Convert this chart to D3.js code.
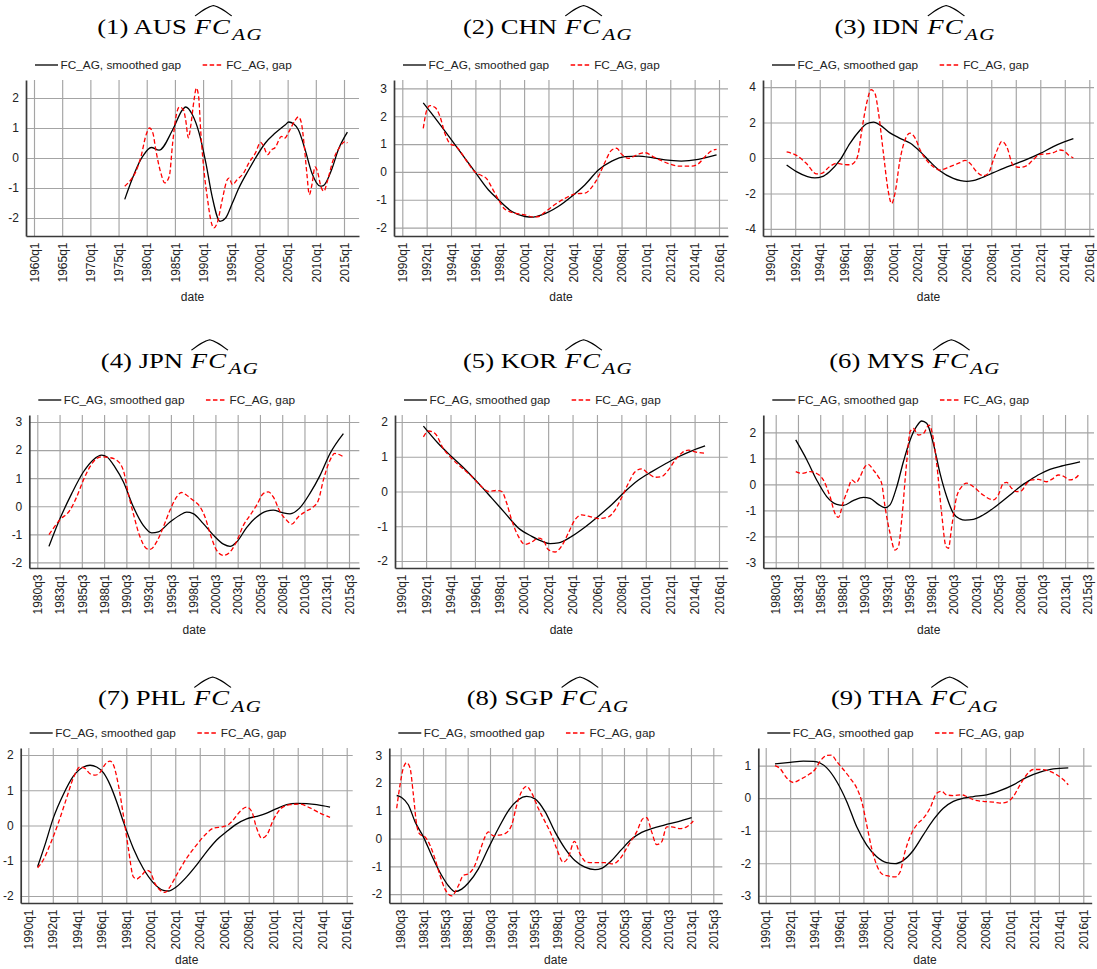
<!DOCTYPE html>
<html><head><meta charset="utf-8">
<script src="https://cdn.jsdelivr.net/npm/d3@7"></script>
<style>body{margin:0;background:#fff}svg{display:block}</style>
</head><body>
<svg id="chart" width="1097" height="969"></svg>
<script>
// ---------------- DATA ----------------
const xTicks5y = ["1960q1","1965q1","1970q1","1975q1","1980q1","1985q1","1990q1","1995q1","2000q1","2005q1","2010q1","2015q1"];
const xTicks2y = ["1990q1","1992q1","1994q1","1996q1","1998q1","2000q1","2002q1","2004q1","2006q1","2008q1","2010q1","2012q1","2014q1","2016q1"];
const xTicksHalf = ["1980q3","1983q1","1985q3","1988q1","1990q3","1993q1","1995q3","1998q1","2000q3","2003q1","2005q3","2008q1","2010q3","2013q1","2015q3"];

const AUS_yTicks = [-2,-1,0,1,2];
const CHN_yTicks = [-2,-1,0,1,2,3];
const IDN_yTicks = [-4,-2,0,2,4];
const JPN_yTicks = [-2,-1,0,1,2,3];
const KOR_yTicks = [-2,-1,0,1,2];
const MYS_yTicks = [-3,-2,-1,0,1,2];
const PHL_yTicks = [-2,-1,0,1,2];
const SGP_yTicks = [-2,-1,0,1,2,3];
const THA_yTicks = [-3,-2,-1,0,1];

const AUS_smoothed = [[1976.1,-1.38],[1979.3,0.06],[1980.8,0.35],[1982.2,0.26],[1984.6,0.94],[1986.35,1.61],[1986.9,1.70],[1988.1,1.44],[1989.3,0.83],[1990.5,-0.17],[1991.6,-1.28],[1993.0,-2.11],[1994.0,-2.0],[1995.2,-1.5],[1996.35,-1.0],[1998.1,-0.39],[1999.3,0],[2001.05,0.5],[2002.8,0.83],[2004.6,1.11],[2005.2,1.2],[2006.05,1.14],[2006.9,0.94],[2008.1,0.28],[2009.3,-0.5],[2010.8,-0.94],[2011.35,-0.92],[2012.8,-0.39],[2014.0,0.28],[2015.6,0.86]];
const AUS_gap = [[1976.1,-0.94],[1977.2,-0.72],[1978.1,-0.44],[1979.0,0.06],[1979.9,0.78],[1980.5,1.0],[1981.1,0.83],[1981.6,0.28],[1982.5,-0.5],[1983.2,-0.83],[1984.0,-0.61],[1984.6,0.5],[1985.2,1.39],[1985.8,1.70],[1986.5,1.61],[1986.9,1.28],[1987.4,0.67],[1987.8,1.06],[1988.4,1.94],[1988.8,2.33],[1989.2,2.06],[1989.6,0.83],[1990.2,-0.5],[1990.8,-1.39],[1991.35,-2.06],[1991.9,-2.33],[1992.5,-2.17],[1993.4,-1.39],[1994.3,-0.72],[1994.6,-0.67],[1995.2,-0.89],[1996.05,-0.72],[1997.2,-0.5],[1998.1,-0.17],[1999.3,0.17],[2000.2,0.52],[2000.6,0.44],[2001.5,0.11],[2002.0,0.25],[2002.8,0.35],[2003.9,0.72],[2004.4,0.65],[2005.4,0.94],[2006.3,1.25],[2006.9,1.37],[2007.4,1.2],[2007.9,0.5],[2008.4,-0.5],[2008.85,-1.22],[2009.3,-0.9],[2009.86,-0.3],[2010.3,-0.45],[2010.9,-0.95],[2011.45,-1.11],[2012.0,-0.8],[2013.1,-0.06],[2014.2,0.35],[2015.2,0.55],[2015.6,0.5]];

const CHN_smoothed = [[1991.72,2.48],[1992.4,2.1],[1994.05,1.14],[1995.15,0.49],[1995.97,0],[1997.06,-0.64],[1997.9,-1.0],[1999.0,-1.42],[2000.07,-1.6],[2000.75,-1.62],[2001.44,-1.54],[2002.8,-1.24],[2003.9,-0.88],[2005.0,-0.46],[2006.1,0.07],[2007.2,0.39],[2008.3,0.55],[2009.4,0.57],[2010.5,0.51],[2011.57,0.43],[2012.9,0.39],[2014.3,0.45],[2015.8,0.61]];
const CHN_gap = [[1991.72,1.56],[1992.0,2.21],[1992.27,2.38],[1992.7,2.31],[1993.1,1.98],[1993.5,1.38],[1993.9,1.02],[1994.46,0.9],[1994.87,0.67],[1995.4,0.31],[1995.97,0],[1996.5,-0.13],[1996.9,-0.23],[1997.3,-0.52],[1997.9,-1.0],[1998.4,-1.33],[1999.25,-1.48],[2000.07,-1.54],[2000.75,-1.62],[2001.2,-1.6],[2001.7,-1.45],[2002.5,-1.18],[2003.4,-0.94],[2004.2,-0.79],[2005.0,-0.76],[2005.5,-0.58],[2006.1,-0.17],[2006.6,0.31],[2007.2,0.79],[2007.6,0.85],[2008.0,0.64],[2008.55,0.49],[2009.4,0.64],[2009.9,0.69],[2010.7,0.52],[2011.8,0.31],[2012.66,0.21],[2013.75,0.21],[2014.3,0.29],[2014.85,0.55],[2015.4,0.76],[2015.8,0.81]];

const IDN_smoothed = [[1991.3,-0.4],[1992.1,-0.77],[1993.0,-1.05],[1993.6,-1.12],[1994.2,-1.05],[1994.8,-0.77],[1995.66,-0.11],[1996.47,0.83],[1997.3,1.58],[1997.8,1.92],[1998.4,2.02],[1998.9,1.87],[1999.7,1.43],[2000.55,1.11],[2001.4,0.83],[2002.2,0.36],[2003.0,-0.21],[2003.8,-0.72],[2004.9,-1.15],[2005.5,-1.28],[2006.0,-1.32],[2006.5,-1.28],[2007.08,-1.15],[2008.17,-0.83],[2009.0,-0.58],[2010.07,-0.3],[2010.9,-0.08],[2012.0,0.26],[2013.06,0.64],[2013.9,0.89],[2014.7,1.09]];
const IDN_gap = [[1991.3,0.34],[1992.1,0.15],[1992.9,-0.3],[1993.75,-0.9],[1994.16,-0.87],[1994.8,-0.49],[1995.4,-0.3],[1995.9,-0.36],[1996.47,-0.38],[1996.9,-0.19],[1997.15,0.26],[1997.4,1.4],[1997.83,3.09],[1998.2,3.85],[1998.5,3.66],[1998.8,2.53],[1999.2,0.26],[1999.6,-1.9],[1999.87,-2.57],[2000.14,-2.0],[2000.55,-0.11],[2000.96,1.02],[2001.37,1.4],[2001.8,1.11],[2002.2,0.45],[2002.7,-0.11],[2003.27,-0.49],[2003.8,-0.68],[2004.63,-0.49],[2005.45,-0.26],[2005.86,-0.13],[2006.26,-0.3],[2006.8,-0.77],[2007.35,-1.0],[2007.76,-0.87],[2008.17,-0.11],[2008.6,0.64],[2008.85,0.94],[2009.26,0.64],[2009.8,-0.43],[2010.34,-0.53],[2010.9,-0.43],[2011.4,-0.11],[2012.0,0.21],[2012.5,0.23],[2013.06,0.3],[2013.6,0.45],[2013.9,0.42],[2014.3,0.17],[2014.7,0.0]];

const JPN_smoothed = [[1981.81,-1.43],[1983.05,-0.44],[1984.36,0.45],[1985.67,1.22],[1986.8,1.66],[1987.73,1.82],[1988.3,1.76],[1989.2,1.4],[1990.16,0.87],[1991.28,-0.02],[1992.4,-0.68],[1993.34,-0.95],[1994.1,-0.91],[1995.4,-0.56],[1996.5,-0.32],[1997.27,-0.21],[1998.0,-0.26],[1999.14,-0.62],[2000.27,-1.03],[2001.4,-1.35],[2002.14,-1.43],[2002.9,-1.27],[2004.0,-0.76],[2005.13,-0.38],[2006.26,-0.17],[2007.0,-0.14],[2007.94,-0.22],[2008.88,-0.27],[2010.0,-0.05],[2011.1,0.45],[2012.25,1.1],[2013.37,1.88],[2014.87,2.59]];
const JPN_gap = [[1981.81,-1.01],[1983.05,-0.48],[1984.17,-0.14],[1984.92,0.33],[1985.67,0.93],[1986.4,1.4],[1987.16,1.7],[1987.73,1.76],[1988.66,1.73],[1989.4,1.64],[1990.16,1.28],[1990.72,0.45],[1991.28,-0.26],[1992.03,-1.09],[1992.78,-1.51],[1993.15,-1.54],[1993.9,-1.27],[1994.65,-0.74],[1995.4,-0.14],[1996.15,0.33],[1996.7,0.49],[1997.27,0.39],[1998.0,0.21],[1998.77,-0.02],[1999.33,-0.38],[1999.9,-0.97],[2000.64,-1.57],[2001.4,-1.75],[2002.14,-1.63],[2002.9,-1.24],[2003.64,-0.68],[2004.4,-0.32],[2005.13,0.04],[2005.88,0.45],[2006.44,0.51],[2007.0,0.33],[2007.76,-0.2],[2008.5,-0.5],[2009.07,-0.64],[2009.8,-0.38],[2010.56,-0.2],[2011.5,-0.02],[2012.06,0.21],[2012.62,0.93],[2013.37,1.64],[2013.9,1.88],[2014.87,1.76]];

const KOR_smoothed = [[1991.78,1.88],[1993.0,1.38],[1994.1,1.0],[1995.19,0.64],[1996.28,0.24],[1997.38,-0.19],[1998.47,-0.62],[1999.56,-1.05],[2000.66,-1.29],[2001.48,-1.43],[2002.16,-1.5],[2002.84,-1.48],[2003.93,-1.29],[2005.03,-1.02],[2006.12,-0.71],[2007.2,-0.38],[2008.3,0],[2009.4,0.33],[2010.5,0.57],[2011.58,0.79],[2012.68,1.0],[2013.77,1.17],[2014.86,1.31]];
const KOR_gap = [[1991.78,1.57],[1992.19,1.74],[1992.73,1.67],[1993.4,1.24],[1994.1,0.95],[1994.9,0.69],[1995.74,0.43],[1996.4,0.19],[1997.1,0],[1997.79,0.03],[1998.2,0],[1998.6,-0.33],[1999.0,-0.81],[1999.56,-1.29],[2000.1,-1.52],[2000.66,-1.45],[2001.2,-1.34],[2001.6,-1.4],[2002.0,-1.67],[2002.57,-1.74],[2003.1,-1.57],[2003.66,-1.19],[2004.2,-0.81],[2004.75,-0.67],[2005.3,-0.71],[2006.12,-0.78],[2006.94,-0.73],[2007.5,-0.52],[2008.0,-0.19],[2008.58,0.24],[2009.13,0.57],[2009.67,0.65],[2010.2,0.52],[2010.77,0.41],[2011.3,0.43],[2011.86,0.62],[2012.4,0.9],[2012.95,1.11],[2013.5,1.19],[2014.04,1.14],[2014.86,1.1]];

const MYS_smoothed = [[1982.75,1.71],[1984.0,0.94],[1985.1,0.17],[1986.23,-0.47],[1987.35,-0.77],[1988.1,-0.81],[1989.2,-0.63],[1990.35,-0.5],[1991.1,-0.54],[1992.03,-0.77],[1992.78,-0.9],[1993.34,-0.79],[1994.1,-0.09],[1994.84,0.87],[1995.6,1.71],[1996.34,2.24],[1996.9,2.44],[1997.46,2.35],[1998.2,1.58],[1998.96,0.42],[1999.7,-0.47],[2000.46,-1.12],[2001.2,-1.33],[2001.77,-1.38],[2002.7,-1.35],[2003.8,-1.18],[2005.32,-0.82],[2006.82,-0.41],[2007.94,-0.09],[2009.07,0.17],[2010.19,0.4],[2011.3,0.58],[2012.8,0.72],[2014.68,0.87]];
const MYS_gap = [[1982.75,0.49],[1983.42,0.42],[1984.36,0.49],[1985.1,0.42],[1985.85,0.17],[1986.6,-0.47],[1987.16,-1.12],[1987.54,-1.27],[1988.1,-0.67],[1988.66,-0.15],[1989.04,0.17],[1989.52,0.06],[1989.97,0.29],[1990.53,0.68],[1990.9,0.77],[1991.47,0.55],[1992.03,0.29],[1992.4,0.04],[1992.78,-0.86],[1993.34,-1.88],[1993.9,-2.53],[1994.28,-2.4],[1994.65,-1.37],[1995.2,0.81],[1995.6,2.03],[1995.96,2.15],[1996.52,1.9],[1997.1,1.96],[1997.72,2.28],[1998.0,2.09],[1998.58,0.81],[1999.14,-1.12],[1999.63,-2.4],[1999.9,-2.46],[2000.27,-1.63],[2000.83,-0.47],[2001.4,-0.09],[2001.95,0.05],[2002.7,-0.09],[2003.8,-0.41],[2004.95,-0.6],[2005.5,-0.41],[2006.07,0.04],[2006.44,0.08],[2007.0,-0.15],[2007.57,-0.28],[2008.13,-0.24],[2008.7,0.04],[2009.25,0.17],[2010.0,0.19],[2010.94,0.1],[2011.5,0.19],[2012.25,0.36],[2012.8,0.32],[2013.56,0.17],[2014.12,0.23],[2014.68,0.42]];

const PHL_smoothed = [[1990.76,-1.17],[1991.36,-0.55],[1992.04,0.21],[1992.86,0.88],[1993.68,1.4],[1994.5,1.66],[1995.04,1.71],[1995.58,1.66],[1996.13,1.5],[1996.67,1.16],[1997.2,0.69],[1997.76,0.11],[1998.58,-0.65],[1999.39,-1.22],[2000.2,-1.62],[2001.03,-1.84],[2001.43,-1.86],[2002.1,-1.74],[2002.93,-1.46],[2003.75,-1.12],[2004.57,-0.74],[2005.38,-0.41],[2006.2,-0.17],[2007.0,0.04],[2007.83,0.19],[2008.65,0.26],[2009.47,0.35],[2010.28,0.48],[2011.1,0.59],[2011.92,0.63],[2012.73,0.62],[2013.55,0.59],[2014.64,0.52]];
const PHL_gap = [[1990.76,-1.2],[1991.22,-0.98],[1991.77,-0.55],[1992.45,0.07],[1993.13,0.78],[1993.68,1.35],[1994.22,1.66],[1994.63,1.62],[1995.04,1.47],[1995.45,1.43],[1995.85,1.5],[1996.26,1.73],[1996.67,1.83],[1996.94,1.73],[1997.35,1.16],[1997.76,0.3],[1998.17,-0.65],[1998.58,-1.46],[1998.85,-1.52],[1999.26,-1.41],[1999.67,-1.27],[1999.94,-1.31],[2000.35,-1.65],[2000.9,-1.87],[2001.16,-1.9],[2001.57,-1.74],[2002.1,-1.41],[2002.93,-0.93],[2003.75,-0.55],[2004.43,-0.27],[2005.1,-0.08],[2005.93,-0.03],[2006.33,0.02],[2006.74,0.16],[2007.29,0.4],[2007.83,0.52],[2008.24,0.4],[2008.65,-0.08],[2009.06,-0.36],[2009.47,-0.27],[2010.01,0.16],[2010.69,0.5],[2011.37,0.59],[2012.19,0.61],[2013.0,0.5],[2013.82,0.35],[2014.64,0.23]];

const SGP_smoothed = [[1980.05,1.55],[1980.6,1.48],[1981.36,1.21],[1982.1,0.61],[1983.04,0.06],[1983.97,-0.61],[1985.09,-1.33],[1985.84,-1.7],[1986.58,-1.91],[1987.33,-1.82],[1988.07,-1.6],[1989.2,-1.09],[1990.3,-0.36],[1991.43,0.36],[1992.55,1.0],[1993.67,1.4],[1994.6,1.52],[1995.54,1.43],[1996.66,0.97],[1997.78,0.24],[1998.9,-0.36],[2000.0,-0.79],[2001.13,-1.03],[2002.25,-1.12],[2003.0,-1.07],[2004.12,-0.79],[2005.24,-0.39],[2006.36,-0.02],[2007.48,0.22],[2008.6,0.36],[2010.09,0.49],[2011.58,0.61],[2013.07,0.75]];
const SGP_gap = [[1980.05,1.09],[1980.43,1.94],[1980.8,2.55],[1981.17,2.73],[1981.54,2.55],[1981.92,1.58],[1982.29,0.49],[1982.66,0.15],[1983.22,0.06],[1983.78,-0.24],[1984.34,-0.73],[1984.9,-1.33],[1985.46,-1.82],[1986.2,-2.06],[1986.96,-1.7],[1987.5,-1.33],[1988.07,-1.27],[1988.8,-0.97],[1989.4,-0.42],[1989.94,0.06],[1990.3,0.24],[1990.87,0.1],[1991.43,0.12],[1992.18,0.18],[1992.93,0.49],[1993.49,1.21],[1994.05,1.7],[1994.6,1.88],[1995.17,1.64],[1995.9,1.09],[1996.66,0.61],[1997.4,0.12],[1997.96,-0.36],[1998.7,-0.85],[1999.27,-0.67],[1999.95,-0.1],[2000.57,-0.55],[2001.32,-0.85],[2002.25,-0.87],[2003.37,-0.87],[2004.3,-0.91],[2005.05,-0.73],[2005.99,-0.24],[2006.92,0.24],[2007.66,0.73],[2008.04,0.75],[2008.6,0.24],[2009.16,-0.22],[2009.72,-0.12],[2010.28,0.42],[2010.84,0.42],[2011.77,0.36],[2012.52,0.42],[2013.26,0.63]];

const THA_smoothed = [[1990.76,1.05],[1992.0,1.1],[1993.08,1.14],[1993.9,1.13],[1994.45,1.08],[1995.0,0.93],[1995.8,0.52],[1996.63,-0.1],[1997.45,-0.88],[1998.27,-1.44],[1999.09,-1.8],[1999.9,-1.98],[2000.59,-2.01],[2001.27,-1.91],[2002.09,-1.6],[2002.9,-1.13],[2003.72,-0.67],[2004.54,-0.31],[2005.36,-0.1],[2006.18,0],[2007.0,0.05],[2008.09,0.1],[2009.18,0.23],[2010.27,0.41],[2011.36,0.64],[2012.46,0.8],[2013.55,0.9],[2014.77,0.93]];
const THA_gap = [[1990.76,1.0],[1991.17,0.91],[1991.72,0.62],[1992.26,0.48],[1992.81,0.57],[1993.5,0.72],[1994.04,0.88],[1994.45,1.13],[1995.0,1.31],[1995.4,1.32],[1995.8,1.13],[1996.36,0.88],[1996.9,0.62],[1997.45,0.31],[1997.86,-0.1],[1998.27,-0.82],[1998.68,-1.55],[1999.09,-2.06],[1999.5,-2.32],[2000.04,-2.39],[2000.59,-2.42],[2001.0,-2.27],[2001.4,-1.65],[2001.81,-1.19],[2002.36,-0.82],[2002.9,-0.62],[2003.45,-0.31],[2004.0,0.15],[2004.4,0.21],[2004.8,0.1],[2005.36,0.08],[2006.04,0.1],[2006.45,0.05],[2007.0,-0.05],[2007.8,-0.1],[2008.64,-0.12],[2009.18,-0.15],[2009.73,-0.12],[2010.27,0.05],[2010.82,0.41],[2011.36,0.72],[2011.9,0.88],[2012.46,0.88],[2013.27,0.82],[2013.82,0.72],[2014.36,0.57],[2014.77,0.41]];

const seriesLabels = ["FC_AG, smoothed gap", "FC_AG, gap"];

const panels = [
  {code:"AUS", smoothed:AUS_smoothed, gap:AUS_gap, xTicks:xTicks5y,  yTicks:AUS_yTicks},
  {code:"CHN", smoothed:CHN_smoothed, gap:CHN_gap, xTicks:xTicks2y,  yTicks:CHN_yTicks},
  {code:"IDN", smoothed:IDN_smoothed, gap:IDN_gap, xTicks:xTicks2y,  yTicks:IDN_yTicks},
  {code:"JPN", smoothed:JPN_smoothed, gap:JPN_gap, xTicks:xTicksHalf,yTicks:JPN_yTicks},
  {code:"KOR", smoothed:KOR_smoothed, gap:KOR_gap, xTicks:xTicks2y,  yTicks:KOR_yTicks},
  {code:"MYS", smoothed:MYS_smoothed, gap:MYS_gap, xTicks:xTicksHalf,yTicks:MYS_yTicks},
  {code:"PHL", smoothed:PHL_smoothed, gap:PHL_gap, xTicks:xTicks2y,  yTicks:PHL_yTicks},
  {code:"SGP", smoothed:SGP_smoothed, gap:SGP_gap, xTicks:xTicksHalf,yTicks:SGP_yTicks},
  {code:"THA", smoothed:THA_smoothed, gap:THA_gap, xTicks:xTicks2y,  yTicks:THA_yTicks}
];

// ---------------- LAYOUT ----------------
const layout = [
  {L:26,   R:359,   T:80,  B:236, x0:34,    x1:344,    yDom:[-2.6,2.6],   cx:180, titleY:33.5, dateY:301},
  {L:394,  R:728,   T:80,  B:236, x0:402.3, x1:719,    yDom:[-2.3,3.3],   cx:548, titleY:33.5, dateY:301},
  {L:763,  R:1094,  T:80,  B:236, x0:770.7, x1:1089.3, yDom:[-4.4,4.4],   cx:915, titleY:33.5, dateY:301},
  {L:29.3, R:359.3, T:415, B:568, x0:37.3,  x1:349,    yDom:[-2.2,3.25],  cx:180, titleY:367.7, dateY:634},
  {L:395,  R:727.7, T:415, B:568, x0:401.7, x1:719,    yDom:[-2.2,2.2],   cx:548, titleY:367.7, dateY:634},
  {L:763.3,R:1094,  T:415, B:568, x0:775.7, x1:1087.3, yDom:[-3.22,2.67], cx:915, titleY:367.7, dateY:634},
  {L:20.7, R:352.7, T:748, B:903, x0:28.3,  x1:346.7,  yDom:[-2.2,2.2],   cx:180, titleY:705, dateY:964},
  {L:389.3,R:722.3, T:748, B:903, x0:400.7, x1:713.3,  yDom:[-2.32,3.26], cx:548, titleY:705, dateY:964},
  {L:758.3,R:1091.7,T:748, B:903, x0:765.7, x1:1083.3, yDom:[-3.22,1.54], cx:915, titleY:705, dateY:964}
];

const SANS = "'Liberation Sans', Arial, Helvetica, sans-serif";
const SERIF = "'Liberation Serif', 'Times New Roman', serif";
const parseQ = s => +s.slice(0,4) + (+s.slice(5) - 1) / 4;

const svg = d3.select("#chart");
svg.append("rect").attr("width",1097).attr("height",969).attr("fill","#fff");

function drawTitle(g, cx, by, num, code){
  const sx = 1.27;
  const outer = g.append("g");
  const inner = outer.append("g");
  const t1 = inner.append("text").attr("x",0).attr("y",0)
    .attr("font-family",SERIF).attr("font-size",21).attr("fill","#000")
    .text(`(${num}) ${code}`);
  const w1 = t1.node().getComputedTextLength();
  const fcX = w1 + 6;
  const t2 = inner.append("text").attr("x",fcX).attr("y",0)
    .attr("font-family",SERIF).attr("font-size",21).attr("font-style","italic")
    .attr("letter-spacing",1).attr("fill","#000").text("FC");
  const w2 = t2.node().getComputedTextLength();
  const agX = fcX + w2 + 1;
  const t3 = inner.append("text").attr("x",agX).attr("y",6.5)
    .attr("font-family",SERIF).attr("font-size",16.5).attr("font-style","italic")
    .attr("letter-spacing",1).attr("fill","#000").text("AG");
  const w3 = t3.node().getComputedTextLength();
  const hx0 = fcX + 0.5, hx1 = fcX + w2 + 0.5, hm = (hx0 + hx1) / 2;
  const yb = -17.5, yp = -28;
  inner.append("path")
    .attr("d", `M${hx0},${yb} C${hx0+(hm-hx0)*0.4},${yp+5} ${hm-(hm-hx0)*0.3},${yp+0.8} ${hm},${yp} C${hm+(hx1-hm)*0.3},${yp+0.8} ${hx1-(hx1-hm)*0.4},${yp+5} ${hx1},${yb}`)
    .attr("fill","none").attr("stroke","#000").attr("stroke-width",0.9);
  const total = agX + w3;
  outer.attr("transform", `translate(${cx - total*sx/2},${by}) scale(${sx},1)`);
}

panels.forEach((p, i) => {
  const lay = layout[i];
  const g = svg.append("g");
  const tickVals = p.xTicks.map(parseQ);
  const xBase = d3.scaleLinear()
    .domain([tickVals[0], tickVals[tickVals.length-1]])
    .range([lay.x0, lay.x1]);
  const x = d3.scaleLinear().domain([xBase.invert(lay.L), xBase.invert(lay.R)]).range([lay.L, lay.R]);
  const y = d3.scaleLinear().domain(lay.yDom).range([lay.B, lay.T]);

  drawTitle(g, lay.cx, lay.titleY, i+1, p.code);

  // Legend
  const ly = lay.T - 15;
  const lg = g.append("g");
  lg.append("line").attr("x1",lay.L+9).attr("x2",lay.L+32).attr("y1",ly).attr("y2",ly)
    .attr("stroke","#000").attr("stroke-width",1.3);
  const lt1 = lg.append("text").attr("x",lay.L+34.5).attr("y",ly+4)
    .attr("font-family",SANS).attr("font-size",11.8).attr("fill","#222").text(seriesLabels[0]);
  const wl = lt1.node().getComputedTextLength();
  const rx = lay.L + 34.5 + wl + 21.5;
  lg.append("line").attr("x1",rx).attr("x2",rx+21).attr("y1",ly).attr("y2",ly)
    .attr("stroke","#ff0000").attr("stroke-width",1.3).attr("stroke-dasharray","4.5,2.5");
  lg.append("text").attr("x",rx+23.5).attr("y",ly+4)
    .attr("font-family",SANS).attr("font-size",11.8).attr("fill","#222").text(seriesLabels[1]);

  // Y axis + horizontal grid
  const yAx = g.append("g").attr("transform",`translate(${lay.L},0)`)
    .call(d3.axisLeft(y).tickValues(p.yTicks).tickFormat(d => String(d))
      .tickSize(-(lay.R - lay.L)).tickSizeOuter(0).tickPadding(7));
  yAx.attr("font-family",SANS).attr("font-size",12);
  yAx.selectAll(".tick line").attr("stroke","#a4a4a4").attr("stroke-width",1.15);
  yAx.selectAll(".tick text").attr("fill","#222");

  // X axis + vertical grid
  const xAx = g.append("g").attr("transform",`translate(0,${lay.B})`)
    .call(d3.axisBottom(x).tickValues(tickVals).tickFormat((d,k) => p.xTicks[k])
      .tickSize(-(lay.B - lay.T)).tickSizeOuter(0));
  xAx.attr("font-family",SANS).attr("font-size",12);
  xAx.selectAll(".tick line").attr("stroke","#a4a4a4").attr("stroke-width",1.15);
  xAx.selectAll(".tick text").attr("fill","#222")
    .attr("transform","rotate(-90)").attr("x",-6.5).attr("y",0).attr("dy","0.35em")
    .attr("text-anchor","end");

  // Lines
  const line = d3.line().x(d => x(d[0])).y(d => y(d[1])).curve(d3.curveMonotoneX);
  g.append("path").datum(p.smoothed).attr("d",line)
    .attr("fill","none").attr("stroke","#000").attr("stroke-width",1.3);
  g.append("path").datum(p.gap).attr("d",line)
    .attr("fill","none").attr("stroke","#ff0000").attr("stroke-width",1.3)
    .attr("stroke-dasharray","4.5,2.5");

  yAx.select(".domain").attr("stroke","#3a3a3a").attr("stroke-width",1.7);
  xAx.select(".domain").attr("stroke","#3a3a3a").attr("stroke-width",1.7);
  g.selectAll("path.domain").raise();

  g.append("text").attr("x",(lay.L+lay.R)/2).attr("y",lay.dateY)
    .attr("text-anchor","middle").attr("font-family",SANS).attr("font-size",12)
    .attr("fill","#222").text("date");
});
</script>
</body></html>
